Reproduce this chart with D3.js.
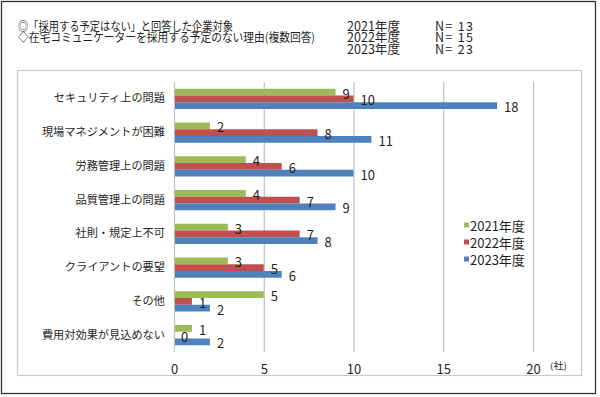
<!DOCTYPE html>
<html>
<head>
<meta charset="utf-8">
<script src="https://cdn.jsdelivr.net/npm/d3@7"></script>
<style>
  body { margin: 0; background: #fff; }
  text { font-family: "Noto Sans CJK JP", "Noto Sans", sans-serif; fill: #1f1f1f; }
</style>
</head>
<body>
<div id="chart"></div>
<script>
// data
const categories = ["セキュリティ上の問題", "現場マネジメントが困難", "労務管理上の問題", "品質管理上の問題",
    "社則・規定上不可", "クライアントの要望", "その他", "費用対効果が見込めない"];
const seriesNames = ["2021年度", "2022年度", "2023年度"];
const seriesColors = ["#9BBB59", "#C0504D", "#4F81BD"];
const values2021 = [9, 2, 4, 4, 3, 3, 5, 1];
const values2022 = [10, 8, 6, 7, 7, 5, 1, 0];
const values2023 = [18, 11, 10, 9, 8, 6, 2, 2];
const xTicks = [0, 5, 10, 15, 20];
const titleLines = ["◎「採用する予定はない」と回答した企業対象", "◇在宅コミュニケーターを採用する予定のない理由(複数回答)"];
const sampleYears = ["2021年度", "2022年度", "2023年度"];
const sampleN = ["N= 13", "N= 15", "N= 23"];

const allValues = [values2021, values2022, values2023];

const width = 600, height = 397;
const margin = { top: 82, right: 67, bottom: 45, left: 174 };
const innerWidth = width - margin.left - margin.right;   // 359
const innerHeight = height - margin.top - margin.bottom; // 270

const svg = d3.select("#chart").append("svg")
    .attr("width", width)
    .attr("height", height);

// outer frame + inner chart box
svg.append("rect")
    .attr("x", 1.5).attr("y", 1.5)
    .attr("width", 594).attr("height", 392)
    .attr("fill", "none").attr("stroke", "#333").attr("stroke-width", 1.3);
svg.append("rect")
    .attr("x", 17.5).attr("y", 70.5)
    .attr("width", 564).attr("height", 305)
    .attr("fill", "none").attr("stroke", "#c9c9c9").attr("stroke-width", 1.2);

// header
const titleYs = [25.5, 36.8, 48];
titleLines.forEach((t, i) => {
    svg.append("text")
        .attr("x", 18).attr("y", titleYs[i])
        .attr("dominant-baseline", "central")
        .attr("textLength", i === 0 ? 215 : 297)
        .attr("lengthAdjust", "spacingAndGlyphs")
        .style("font-size", "12px")
        .text(t);
});
sampleYears.forEach((t, i) => {
    svg.append("text")
        .attr("x", 347).attr("y", titleYs[i])
        .attr("dominant-baseline", "central")
        .attr("textLength", 53)
        .attr("lengthAdjust", "spacingAndGlyphs")
        .style("font-size", "12.5px")
        .text(t);
    svg.append("text")
        .attr("x", 435).attr("y", titleYs[i])
        .attr("dominant-baseline", "central")
        .attr("textLength", 38)
        .attr("lengthAdjust", "spacing")
        .style("font-size", "12.5px")
        .text(sampleN[i]);
});

const g = svg.append("g")
    .attr("transform", `translate(${margin.left},${margin.top})`);

const x = d3.scaleLinear().domain([0, 20]).range([0, innerWidth]);
const y = d3.scaleBand().domain(categories).range([0, innerHeight])
    .paddingInner(0.4).paddingOuter(0.2);
const ySub = d3.scaleBand().domain(seriesNames).range([0, y.bandwidth()]);

// vertical gridlines (incl. the 0 axis line)
g.selectAll(".grid")
    .data(xTicks)
    .join("line")
    .attr("class", "grid")
    .attr("x1", d => x(d) + 0.5).attr("x2", d => x(d) + 0.5)
    .attr("y1", 0).attr("y2", innerHeight)
    .attr("stroke", "#bfbfbf")
    .attr("stroke-width", 1.2);

// x axis labels
const xAxis = g.append("g")
    .attr("transform", `translate(0,${innerHeight})`)
    .call(d3.axisBottom(x).tickValues(xTicks).tickSize(0).tickPadding(13));
xAxis.select(".domain").remove();
xAxis.selectAll("text")
    .style("font-size", "13px")
    .style("font-family", "\"Noto Sans CJK JP\", sans-serif")
    .attr("fill", "#1f1f1f");

svg.append("text")
    .attr("x", 550).attr("y", 365)
    .attr("dominant-baseline", "central")
    .attr("textLength", 17)
    .attr("lengthAdjust", "spacingAndGlyphs")
    .style("font-size", "9px")
    .text("(社)");

// category labels
const yAxis = g.append("g")
    .call(d3.axisLeft(y).tickSize(0).tickPadding(9));
yAxis.select(".domain").remove();
yAxis.selectAll("text")
    .style("font-size", "11.2px")
    .style("font-family", "\"Noto Sans CJK JP\", sans-serif")
    .attr("fill", "#1f1f1f");

// bars
const rows = categories.map((c, i) => ({ cat: c, vals: allValues.map(v => v[i]) }));
const groups = g.selectAll(".cat")
    .data(rows)
    .join("g")
    .attr("class", "cat")
    .attr("transform", d => `translate(0,${y(d.cat)})`);

groups.selectAll("rect")
    .data(d => d.vals.map((v, k) => ({ series: seriesNames[k], value: v, color: seriesColors[k] })))
    .join("rect")
    .attr("x", x(0) + 1)
    .attr("y", d => ySub(d.series))
    .attr("width", d => Math.max(0, x(d.value) - x(0) - 1))
    .attr("height", ySub.bandwidth())
    .attr("fill", d => d.color);

groups.selectAll(".val")
    .data(d => d.vals.map((v, k) => ({ series: seriesNames[k], value: v })))
    .join("text")
    .attr("class", "val")
    .attr("x", d => x(d.value) + 7)
    .attr("y", d => ySub(d.series) + ySub.bandwidth() / 2 + 1)
    .attr("dominant-baseline", "central")
    .style("font-size", "13px")
    .text(d => d.value);

// legend
const legend = svg.append("g").attr("transform", "translate(464,225)");
seriesNames.forEach((s, i) => {
    legend.append("rect")
        .attr("x", 0).attr("y", i * 17 - 2.5)
        .attr("width", 5).attr("height", 5)
        .attr("fill", seriesColors[i]);
    legend.append("text")
        .attr("x", 6).attr("y", i * 17)
        .attr("dominant-baseline", "central")
        .style("font-size", "13px")
        .text(s);
});
</script>
</body>
</html>
